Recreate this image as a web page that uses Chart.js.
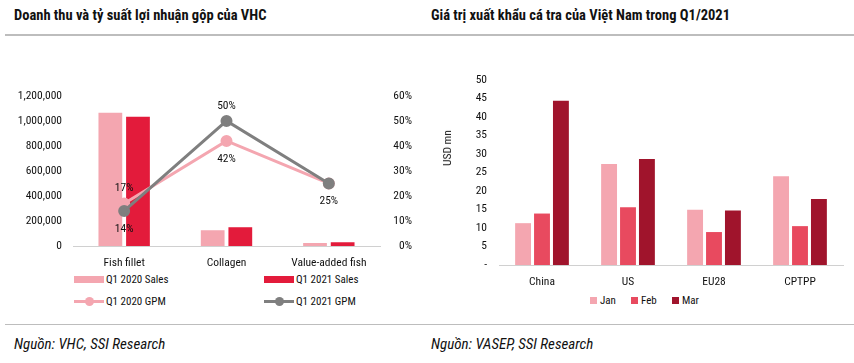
<!DOCTYPE html>
<html>
<head>
<meta charset="utf-8">
<script src="https://cdn.jsdelivr.net/npm/chart.js@4.4.1/dist/chart.umd.min.js"></script>
<style>
    body { margin: 0; width: 854px; height: 363px; background: #fff; position: relative; overflow: hidden;
        font-family: "Roboto Condensed", "Liberation Sans", sans-serif; color: #111; }
    .title { position: absolute; top: 7px; font-weight: bold; font-size: 14.5px; }
    .rule { position: absolute; left: 5px; width: 849px; background: #bdbdbd; }
    .src { position: absolute; top: 335px; font-style: italic; font-size: 15px; color: #111; }
    .box { position: absolute; }
    .leg { position: absolute; font-size: 11px; display: flex; align-items: center; white-space: nowrap; }
    .sw { display: inline-block; margin-right: 2px; }
    .ytit { position: absolute; left: 447px; top: 148px; font-size: 11.5px; white-space: nowrap;
        transform: translate(-50%, -50%) rotate(-90deg); }
</style>
</head>
<body>
<div class="title" style="left:14px">Doanh thu và tỷ suất lợi nhuận gộp của VHC</div>
<div class="title" style="left:431px">Giá trị xuất khẩu cá tra của Việt Nam trong Q1/2021</div>
<div class="rule" style="top:34px;height:2px"></div>
<div class="rule" style="top:324px;height:1px"></div>
<div class="src" style="left:14px">Nguồn: VHC, SSI Research</div>
<div class="src" style="left:431px">Nguồn: VASEP, SSI Research</div>

<div class="box" style="left:0;top:78px;width:427px;height:192px"><canvas id="vhc"></canvas></div>
<div class="box" style="left:427px;top:61px;width:427px;height:231px"><canvas id="tra"></canvas></div>
<div class="ytit">USD mn</div>

<div id="legVhc"></div>
<div id="legTra"></div>

<script>
// Bieu do 1: doanh thu va GPM cua VHC
const segmentos = ['Fish fillet', 'Collagen', 'Value-added fish'];
const ventas2020 = [1066000, 126000, 24000];
const ventas2021 = [1034000, 150000, 30000];
const gpm2020 = [17, 42, 25];
const gpm2021 = [14, 50, 25];
// donde va la etiqueta de cada punto (arriba / abajo / sin etiqueta)
const posEtiq2020 = ['up', 'down', null];
const posEtiq2021 = ['down', 'up', 'down'];

// Bieu do 2: xuat khau ca tra theo thi truong
const mercados = ['China', 'US', 'EU28', 'CPTPP'];
const exportJan = [11.3, 27.3, 14.9, 24.0];
const exportFeb = [13.9, 15.6, 8.9, 10.5];
const exportMar = [44.4, 28.6, 14.7, 17.8];

const rosa = '#f4a6b0';
const rojo = '#e31b3b';
const gris = '#7f7f7f';
const fuente = '"Roboto Condensed", "Liberation Sans", sans-serif';

Chart.defaults.font.family = fuente;
Chart.defaults.font.size = 11.5;
Chart.defaults.color = '#111';
Chart.defaults.animation = false;

const etiquetasGpm = {
    id: 'etiquetasGpm',
    afterDatasetsDraw(chart) {
        const ctx = chart.ctx;
        ctx.save();
        ctx.font = '11.5px ' + fuente;
        ctx.fillStyle = '#111';
        ctx.textAlign = 'center';
        ctx.textBaseline = 'middle';
        chart.data.datasets.forEach((ds, i) => {
            if (!ds.posEtiq) return;
            const meta = chart.getDatasetMeta(i);
            meta.data.forEach((p, j) => {
                const pos = ds.posEtiq[j];
                if (!pos) return;
                const dy = pos === 'up' ? -15 : 18;
                ctx.fillText(ds.data[j] + '%', p.x, p.y + dy);
            });
        });
        ctx.restore();
    }
};

new Chart(document.getElementById('vhc'), {
    type: 'bar',
    plugins: [etiquetasGpm],
    data: {
        labels: segmentos,
        datasets: [
            { type: 'line', label: 'Q1 2021 GPM', data: gpm2021, yAxisID: 'y1', order: 0,
              borderColor: gris, backgroundColor: gris, borderWidth: 3, pointRadius: 4.5, pointHoverRadius: 4.5,
              posEtiq: posEtiq2021 },
            { type: 'line', label: 'Q1 2020 GPM', data: gpm2020, yAxisID: 'y1', order: 1,
              borderColor: rosa, backgroundColor: rosa, borderWidth: 3, pointRadius: 4.5, pointHoverRadius: 4.5,
              posEtiq: posEtiq2020 },
            { label: 'Q1 2020 Sales', data: ventas2020, backgroundColor: rosa, order: 2,
              categoryPercentage: 0.54, barPercentage: 0.86 },
            { label: 'Q1 2021 Sales', data: ventas2021, backgroundColor: rojo, order: 2,
              categoryPercentage: 0.54, barPercentage: 0.86 }
        ]
    },
    options: {
        responsive: true,
        maintainAspectRatio: false,
        layout: { padding: { left: 0, right: 15, top: 0, bottom: 0 } },
        plugins: { legend: { display: false }, tooltip: { enabled: false } },
        scales: {
            x: {
                grid: { display: false, drawTicks: false },
                border: { color: '#d0d0d0', width: 1 },
                ticks: { padding: 10 },
                afterFit: (s) => { s.height = 24; }
            },
            y: {
                min: 0, max: 1200000,
                grid: { display: false, drawTicks: false },
                border: { display: false },
                ticks: { stepSize: 200000, padding: 11,
                    callback: (v) => v.toLocaleString('en-US') },
                afterFit: (s) => { s.width = 73; }
            },
            y1: {
                position: 'right',
                min: 0, max: 60,
                grid: { display: false, drawTicks: false },
                border: { display: false },
                ticks: { stepSize: 10, crossAlign: 'far', callback: (v) => v + '%' },
                afterFit: (s) => { s.width = 32; }
            }
        }
    }
});

new Chart(document.getElementById('tra'), {
    type: 'bar',
    data: {
        labels: mercados,
        datasets: [
            { label: 'Jan', data: exportJan, backgroundColor: rosa },
            { label: 'Feb', data: exportFeb, backgroundColor: '#e84a5f' },
            { label: 'Mar', data: exportMar, backgroundColor: '#a0142c' }
        ]
    },
    options: {
        responsive: true,
        maintainAspectRatio: false,
        layout: { padding: { left: 0, right: 11, top: 0, bottom: 0 } },
        datasets: { bar: { categoryPercentage: 0.66, barPercentage: 0.84 } },
        plugins: { legend: { display: false }, tooltip: { enabled: false } },
        scales: {
            x: {
                grid: { display: false, drawTicks: false },
                border: { color: '#d0d0d0', width: 1 },
                ticks: { padding: 10 },
                afterFit: (s) => { s.height = 27; }
            },
            y: {
                min: 0, max: 50,
                grid: { display: false, drawTicks: false },
                border: { display: false },
                ticks: { stepSize: 5, padding: 12, callback: (v) => v === 0 ? '-' : v },
                afterFit: (s) => { s.width = 72; }
            }
        }
    }
});

// leyendas
function leyenda(el, items) {
    el.innerHTML = items.map(it =>
        `<div class="leg" style="left:${it.x}px;top:${it.y}px">${it.sw}<span>${it.t}</span></div>`
    ).join('');
}
const barra = (c) => `<span class="sw" style="width:30px;height:7px;background:${c}"></span>`;
const linea = (c) => `<span class="sw" style="position:relative;width:30px;height:3px;background:${c}">` +
    `<span style="position:absolute;left:11px;top:-3px;width:9px;height:9px;border-radius:50%;background:${c}"></span></span>`;
const cuadro = (c) => `<span class="sw" style="width:7px;height:7px;background:${c};margin-right:3px"></span>`;

leyenda(document.getElementById('legVhc'), [
    { x: 74, y: 273, sw: barra(rosa), t: 'Q1 2020 Sales' },
    { x: 264, y: 273, sw: barra(rojo), t: 'Q1 2021 Sales' },
    { x: 74, y: 295, sw: linea(rosa), t: 'Q1 2020 GPM' },
    { x: 264, y: 295, sw: linea(gris), t: 'Q1 2021 GPM' }
]);
leyenda(document.getElementById('legTra'), [
    { x: 590, y: 294, sw: cuadro(rosa), t: 'Jan' },
    { x: 631, y: 294, sw: cuadro('#e84a5f'), t: 'Feb' },
    { x: 672, y: 294, sw: cuadro('#a0142c'), t: 'Mar' }
]);
</script>
</body>
</html>
